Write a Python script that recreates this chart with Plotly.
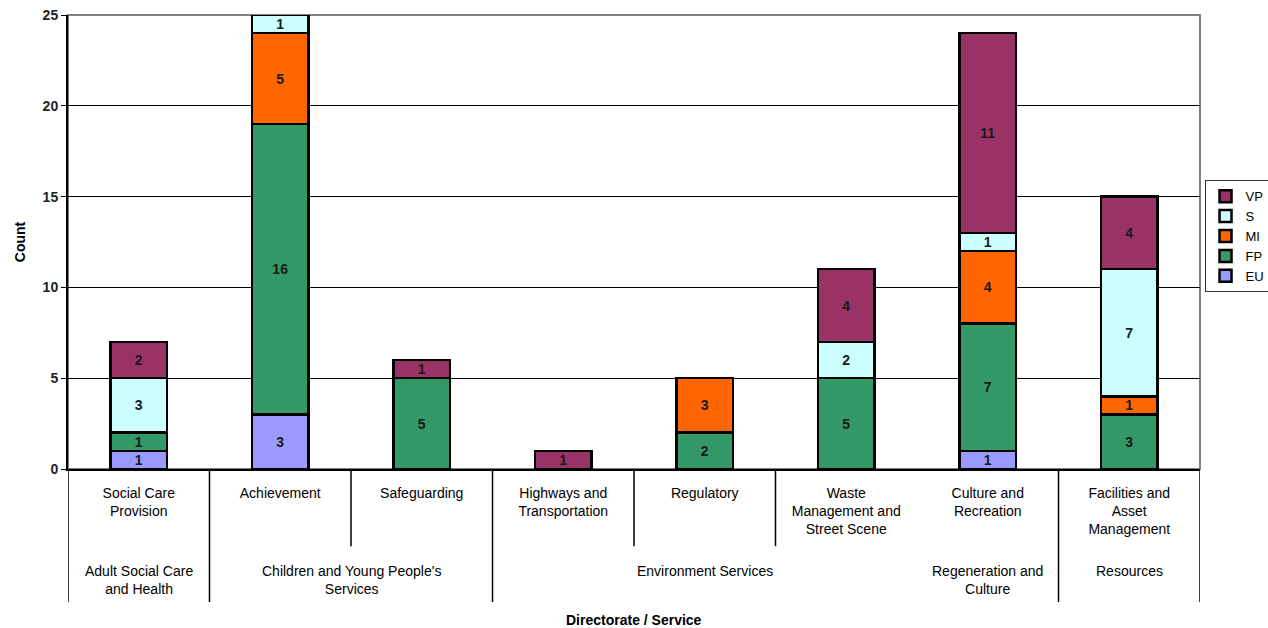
import plotly.graph_objects as go

categories = ["Social Care Provision", "Achievement", "Safeguarding", "Highways and Transportation",
              "Regulatory", "Waste Management and Street Scene", "Culture and Recreation",
              "Facilities and Asset Management"]
category_ticktext = ["Social Care<br>Provision", "Achievement", "Safeguarding", "Highways and<br>Transportation",
                     "Regulatory", "Waste<br>Management and<br>Street Scene", "Culture and<br>Recreation",
                     "Facilities and<br>Asset<br>Management"]
directorates = ["Adult Social Care<br>and Health", "Children and Young People's<br>Services",
                "Environment Services", "Regeneration and<br>Culture", "Resources"]
directorate_span = [(0, 0), (1, 2), (3, 5), (6, 6), (7, 7)]

EU = [1, 3, 0, 0, 0, 0, 1, 0]
FP = [1, 16, 5, 0, 2, 5, 7, 3]
MI = [0, 5, 0, 0, 3, 0, 4, 1]
S = [3, 1, 0, 0, 0, 2, 1, 7]
VP = [2, 0, 1, 1, 0, 4, 11, 4]

series = [("EU", EU, "#9999FF"), ("FP", FP, "#339966"), ("MI", MI, "#FF6600"),
          ("S", S, "#CCFFFF"), ("VP", VP, "#993366")]

FONT = "Liberation Sans, Arial, sans-serif"

fig = go.Figure()
for name, vals, col in series:
    fig.add_trace(go.Bar(
        x=categories,
        y=[v if v else None for v in vals],
        name=name,
        marker=dict(color=col, line=dict(color="black", width=2.5)),
        text=[str(v) if v else "" for v in vals],
        textposition="inside",
        insidetextanchor="middle",
        textangle=0,
        constraintext="none",
        textfont=dict(family=FONT, size=14, color="#1a1a1a", weight="bold"),
        width=0.4,
    ))

shapes = []
# plot border (gray)
shapes.append(dict(type="rect", xref="paper", yref="paper", x0=0, x1=1, y0=0, y1=1,
                   line=dict(color="#808080", width=2), layer="below"))
# separators below axis
outer = [-0.5, 0.5, 2.5, 6.5, 7.5]
inner = [1.5, 3.5, 4.5]
for xv in outer:
    shapes.append(dict(type="line", xref="x", yref="paper", x0=xv, x1=xv, y0=0, y1=-0.293,
                       line=dict(color="black", width=1.5)))
for xv in inner:
    shapes.append(dict(type="line", xref="x", yref="paper", x0=xv, x1=xv, y0=0, y1=-0.17,
                       line=dict(color="black", width=1.5)))

annotations = []
for label, (a, b) in zip(directorates, directorate_span):
    annotations.append(dict(text=label, xref="x", yref="paper", x=(a + b) / 2, y=-0.202,
                            xanchor="center", yanchor="top", showarrow=False,
                            font=dict(family=FONT, size=14, color="black")))
annotations.append(dict(text="<b>Directorate / Service</b>", xref="paper", yref="paper",
                        x=0.5, y=-0.333, xanchor="center", yanchor="middle", showarrow=False,
                        font=dict(family=FONT, size=14, color="black")))

fig.update_layout(
    width=1268, height=628,
    margin=dict(l=68, r=68, t=15, b=159, autoexpand=False),
    barmode="stack",
    bargap=0.6,
    plot_bgcolor="white", paper_bgcolor="white",
    font=dict(family=FONT, size=14, color="black"),
    shapes=shapes,
    annotations=annotations,
    showlegend=True,
    legend=dict(x=1.004, y=0.636, xanchor="left", yanchor="top", traceorder="reversed",
                bordercolor="#333333", borderwidth=1, bgcolor="white",
                font=dict(family=FONT, size=13, color="black"),
                itemwidth=30, tracegroupgap=0),
    xaxis=dict(type="category", range=[-0.5, 7.5], tickvals=categories, ticktext=category_ticktext,
               showline=True, linecolor="black", linewidth=2, ticks="", showgrid=False,
               tickfont=dict(family=FONT, size=14, color="black"), ticklabelstandoff=10),
    yaxis=dict(range=[0, 25], tickvals=[0, 5, 10, 15, 20, 25], showgrid=True, gridcolor="black",
               gridwidth=1, showline=True, linecolor="black", linewidth=2, ticks="outside",
               ticklen=5, tickcolor="black", zeroline=False,
               tickfont=dict(family=FONT, size=14, color="#222222", weight="bold"),
               title=dict(text="<b>Count</b>", font=dict(family=FONT, size=14, color="black"), standoff=14)),
)

fig.write_html("out.html")
